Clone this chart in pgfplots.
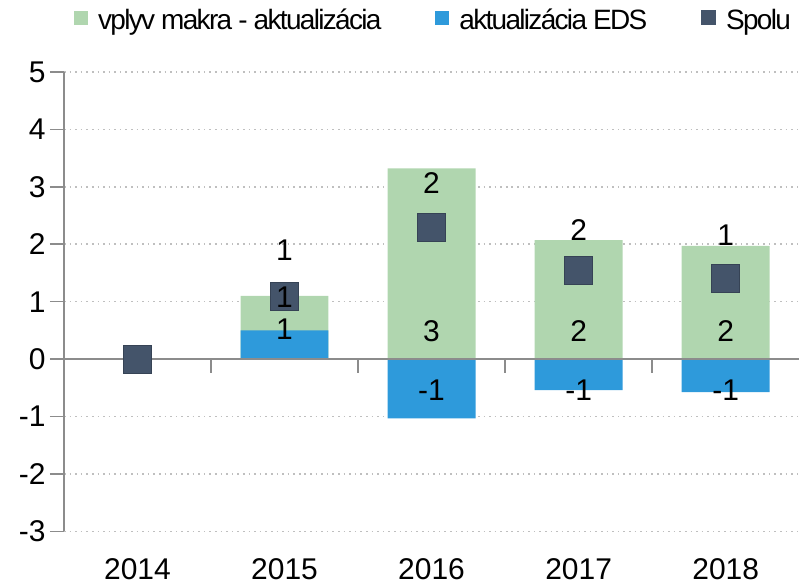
\documentclass[border=0pt]{standalone}
\usepackage{fontspec}
\setmainfont{Liberation Sans}
\newfontfamily\legfont[LetterSpace=-6]{Liberation Sans}
\usepackage{pgfplots}
\pgfplotsset{compat=1.18}
\definecolor{cgreen}{HTML}{B0D6AF}
\definecolor{cblue}{HTML}{2E9ADB}
\definecolor{cdark}{HTML}{44546A}
\definecolor{cgrid}{HTML}{BFBFBF}
\definecolor{caxis}{HTML}{8C8C8C}
\newcommand{\fs}{\fontsize{15}{18}\selectfont}
\begin{document}
\begin{tikzpicture}
\begin{axis}[
  scale only axis, width=368pt, height=230pt,
  xmin=-0.5, xmax=4.5, ymin=-3, ymax=5,
  axis lines*=left,
  x axis line style={draw=none},
  y axis line style={caxis, line width=0.8pt},
  xtick={0,1,2,3,4}, xticklabels={2014,2015,2016,2017,2018},
  ytick={-3,-2,-1,0,1,2,3,4,5}, yticklabels={-3,-2,-1,0,1,2,3,4,5},
  x tick style={draw=none},
  y tick style={caxis, line width=0.8pt},
  tick align=outside, major tick length=7pt,
  ymajorgrids, grid style={cgrid, line width=0.8pt, dash pattern=on 0.8pt off 2pt},
  xticklabel style={font=\fs, yshift=-3pt},
  yticklabel style={font=\fs, inner sep=2pt},
  legend style={at={(0.504,1)}, anchor=south, yshift=17.5pt, draw=none, fill=none,
    font=\legfont\fontsize{14}{17}\selectfont, legend columns=3, inner sep=0pt,
    /tikz/every odd column/.append style={column sep=3pt},
    /tikz/every even column/.append style={column sep=25pt}},
  legend cell align=left,
]
\addplot[ybar, bar width=44pt, bar shift=0pt, fill=cgreen, draw=none,
  legend image code/.code={\fill[cgreen] (0pt,-2pt) rectangle (7pt,5pt);}]
  coordinates {(1,1.10) (2,3.32) (3,2.07) (4,1.97)};
\addlegendentry{vplyv makra - aktualizácia}
\addplot[ybar, bar width=44pt, bar shift=0pt, fill=cblue, draw=none,
  legend image code/.code={\fill[cblue] (0pt,-2pt) rectangle (7pt,5pt);}]
  coordinates {(1,0.50) (2,-1.03) (3,-0.54) (4,-0.575)};
\addlegendentry{aktualizácia EDS}
\draw[caxis, line width=0.8pt] (axis cs:-0.5,0) -- (axis cs:4.5,0);
\pgfplotsinvokeforeach{0.5,1.5,2.5,3.5}{\draw[caxis, line width=0.8pt] (axis cs:#1,0) -- ([yshift=-7pt]axis cs:#1,0);}
\addplot[only marks, mark=square*, mark size=7pt, mark options={fill=cdark, draw=cdark!80!black, line width=0.4pt},
  legend image code/.code={\fill[cdark] (0pt,-2pt) rectangle (7pt,5pt);}]
  coordinates {(0,0) (1,1.10) (2,2.30) (3,1.54) (4,1.41)};
\addlegendentry{Spolu}
\addplot[draw=none, mark=none, forget plot, nodes near coords, point meta=explicit symbolic,
  nodes near coords style={anchor=center, font=\fs, text=black}]
  coordinates {
    (1,1.90)[1] (1,1.08)[1] (1,0.52)[1]
    (2,3.06)[2] (2,0.49)[3] (2,-0.54)[-1]
    (3,2.24)[2] (3,0.49)[2] (3,-0.54)[-1]
    (4,2.16)[1] (4,0.49)[2] (4,-0.54)[-1]
  };
\end{axis}
\path ([xshift=-32pt]current axis.south west) -- ([xshift=-32pt,yshift=36pt]current axis.north west);
\end{tikzpicture}
\end{document}
